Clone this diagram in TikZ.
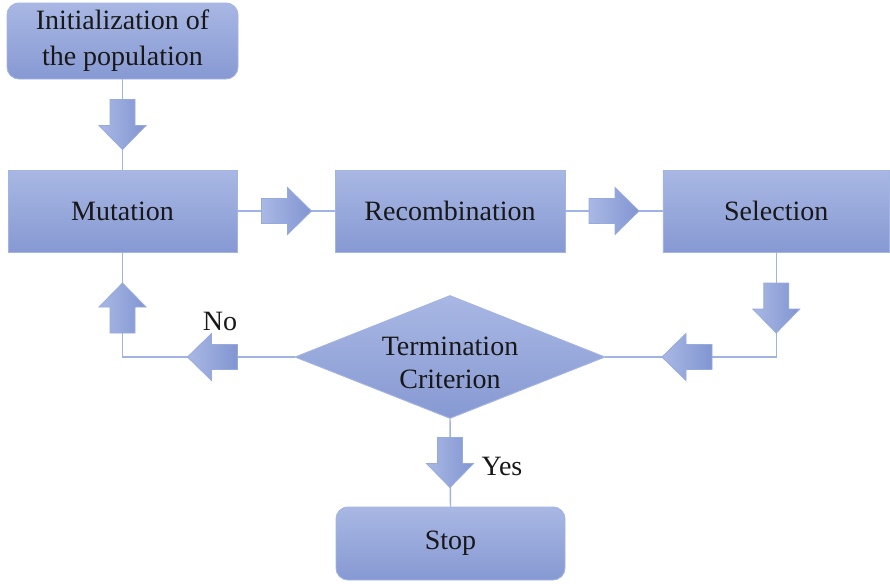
\documentclass[tikz,border=0pt]{standalone}
\usepackage{fontspec}
\setmainfont{Liberation Serif}
\newfontfamily\labelfont{Liberation Serif}
\usetikzlibrary{shapes.geometric}

\definecolor{boxtop}{HTML}{A8B7E3}
\definecolor{boxbot}{HTML}{8799D3}
\definecolor{boxedge}{HTML}{A3B4E4}
\definecolor{lineblue}{HTML}{A0B3E6}
\definecolor{arrlight}{HTML}{A9B8E4}
\definecolor{arrdark}{HTML}{8195D1}
\definecolor{arredge}{HTML}{97AAE0}
\definecolor{ink}{HTML}{181818}

\tikzset{
  procbox/.style={rectangle, top color=boxtop, bottom color=boxbot, draw=boxedge,
    line width=0.7pt, inner sep=0pt, text=ink, align=center},
  roundbox/.style={procbox, rounded corners=9pt},
  decision/.style={diamond, top color=boxtop, bottom color=boxbot, draw=boxedge,
    line width=0.7pt, inner sep=0pt},
  caption/.style={text=ink, align=center, inner sep=0pt},
  conn/.style={draw=lineblue, line width=1.1pt},
  blockarrow/.pic={
    \shade[left color=arrlight, right color=arrdark, draw=arredge, line width=0.6pt]
      (-25,-12.5) -- (1,-12.5) -- (1,-23.5) -- (25,0) -- (1,23.5) -- (1,12.5)
      -- (-25,12.5) -- cycle;
  }
}

\begin{document}
\begin{tikzpicture}[x=0.75pt, y=-0.75pt, font=\labelfont\fontsize{21}{25}\selectfont]
\useasboundingbox (0,0) rectangle (890,583);

% process boxes
\node[roundbox, minimum width=173.25pt, minimum height=57pt] (init) at (122.5,41)
  {Initialization of\\[2pt]the population};
\node[procbox, minimum width=171.75pt, minimum height=61.5pt] (mut) at (122.5,211) {Mutation};
\node[procbox, minimum width=172.5pt, minimum height=61.5pt] (rec) at (450,211) {Recombination};
\node[procbox, minimum width=169.9pt, minimum height=61.5pt] (sel) at (776.25,211) {Selection};
\node[decision, minimum width=232.5pt, minimum height=92.25pt] (crit) at (450,357) {};
\node[caption] (critlabel) at (450,363) {Termination\\Criterion};
\node[roundbox, minimum width=171.75pt, minimum height=54.75pt] (stop) at (450.5,543.5) {Stop};

% connectors
\draw[conn] (init.south) -- (mut.north);
\draw[conn] (mut.east) -- (rec.west);
\draw[conn] (rec.east) -- (sel.west);
\draw[conn] (sel.south) |- (crit.east);
\draw[conn] (crit.west) -| (mut.south);
\draw[conn] (crit.south) -- (stop.north);

% block arrows on the connectors
\pic[rotate=-90] at (122.5,124.5) {blockarrow};
\pic at (286.5,211) {blockarrow};
\pic at (614,211) {blockarrow};
\pic[rotate=-90] at (776.25,308) {blockarrow};
\pic[rotate=180] at (687,357) {blockarrow};
\pic[rotate=180] at (212.5,357) {blockarrow};
\pic[rotate=90] at (122.5,308) {blockarrow};
\pic[rotate=-90] at (450,462.5) {blockarrow};

% branch labels
\node[caption] (nolabel) at (220,321) {No};
\node[caption] (yeslabel) at (502,466) {Yes};
\end{tikzpicture}
\end{document}
